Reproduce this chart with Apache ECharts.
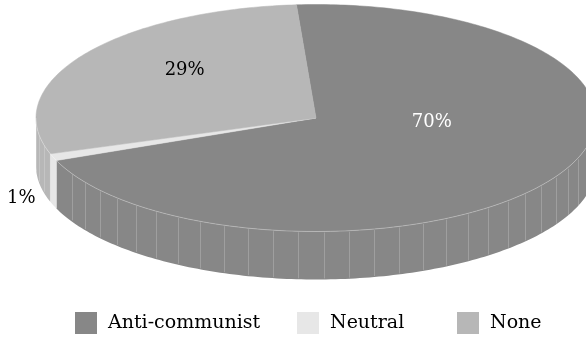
<!DOCTYPE html>
<html>
<head>
<meta charset="utf-8">
<script src="https://cdn.jsdelivr.net/npm/echarts@6/dist/echarts.min.js"></script>
<style>
  html, body { margin: 0; padding: 0; background: #ffffff; }
  #chart { width: 586px; height: 340px; }
</style>
</head>
<body>
<div id="chart"></div>
<script>
// Slices of the pie, in drawing order (clockwise from the top)
const categories = ['Anti-communist', 'Neutral', 'None'];
const shares = [70, 1, 29];
const valueLabels = ['70%', '1%', '29%'];
const sliceColors = ['#878787', '#e7e7e7', '#b7b7b7'];
const labelColors = ['#ffffff', '#000000', '#000000'];

// Tilted-disc geometry (pixels) and starting angle of the first slice
const disc = { cx: 316, cy: 118, rx: 280, ry: 113.5, depth: 48, startDeg: -94 };
// Label placement: radial factor and a small nudge per slice
const labelRadius = [0.5, 1.0, 0.5];
const labelNudge = [[-3, -26], [-32, 41], [-15, -16]];
const FONT = 'DejaVu Serif';

const total = shares.reduce((a, b) => a + b, 0);
const spans = [];
let acc = 0;
shares.forEach(v => {
  const a0 = disc.startDeg + acc / total * 360;
  acc += v;
  const a1 = disc.startDeg + acc / total * 360;
  spans.push([a0, a1]);
});

const rad = d => d * Math.PI / 180;
const rimPoint = (deg, drop) => [
  disc.cx + disc.rx * Math.cos(rad(deg)),
  disc.cy + disc.ry * Math.sin(rad(deg)) + (drop || 0)
];
function arc(a0, a1, drop) {
  const pts = [];
  const n = Math.max(2, Math.ceil(Math.abs(a1 - a0) / 1));
  for (let k = 0; k <= n; k++) pts.push(rimPoint(a0 + (a1 - a0) * k / n, drop));
  return pts;
}
// Parts of a slice's rim that face the viewer (lower half of the ellipse)
function frontRanges(a0, a1) {
  const out = [];
  for (const k of [-360, 0, 360]) {
    const lo = Math.max(a0, k), hi = Math.min(a1, k + 180);
    if (hi > lo) out.push([lo, hi]);
  }
  return out;
}

function renderSlice(i) {
  const [a0, a1] = spans[i];
  const color = sliceColors[i];
  const children = [];
  // Visible side walls
  frontRanges(a0, a1).forEach(([lo, hi]) => {
    const top = arc(lo, hi, 0);
    const bottom = arc(hi, lo, disc.depth);
    children.push({
      type: 'polygon', z2: 1,
      shape: { points: top.concat(bottom) },
      style: { fill: color, stroke: null }
    });
    // facet edges of the wall
    const step = 5.2;
    for (let a = Math.ceil(lo / step) * step; a < hi; a += step) {
      if (a - lo < 3 || hi - a < 3) continue;
      const p = rimPoint(a, 0), q = rimPoint(a, disc.depth);
      children.push({
        type: 'line', z2: 2,
        shape: { x1: Math.round(p[0]) + 0.5, y1: p[1] + 1, x2: Math.round(q[0]) + 0.5, y2: q[1] - 1 },
        style: { stroke: 'rgba(255,255,255,0.2)', lineWidth: 1 }
      });
    }
    // vertical edge where the wall begins
    const e = rimPoint(lo, 0), f = rimPoint(lo, disc.depth);
    children.push({
      type: 'line', z2: 2,
      shape: { x1: e[0], y1: e[1], x2: f[0], y2: f[1] },
      style: { stroke: 'rgba(255,255,255,0.2)', lineWidth: 1 }
    });
    // light seam along the upper rim
    children.push({
      type: 'polyline', z2: 4,
      shape: { points: arc(lo, hi, 0) },
      style: { stroke: 'rgba(255,255,255,0.3)', lineWidth: 1, fill: null }
    });
  });
  // Top face
  children.push({
    type: 'polygon', z2: 3,
    shape: { points: [[disc.cx, disc.cy]].concat(arc(a0, a1, 0)) },
    style: { fill: color, stroke: color, lineWidth: 0.5 }
  });
  // Value label
  const mid = (a0 + a1) / 2;
  const f = labelRadius[i];
  const lx = disc.cx + f * disc.rx * Math.cos(rad(mid)) + labelNudge[i][0];
  const ly = disc.cy + f * disc.ry * Math.sin(rad(mid)) + labelNudge[i][1];
  children.push({
    type: 'text', z2: 10,
    x: lx, y: ly,
    style: {
      text: valueLabels[i], fill: labelColors[i],
      font: '18px "' + FONT + '"', align: 'center', verticalAlign: 'middle'
    }
  });
  return { type: 'group', children };
}

const chart = echarts.init(document.getElementById('chart'), null, { renderer: 'canvas' });

const legendLefts = [75, 297, 457];
const option = {
  animation: false,
  color: sliceColors,
  legend: categories.map((name, i) => ({
    data: [name],
    left: legendLefts[i], top: 312,
    padding: 0,
    icon: 'rect', itemWidth: 22, itemHeight: 22,
    selectedMode: false,
    textStyle: { fontFamily: FONT, fontSize: 19, color: '#000', padding: [0, 0, 0, 6] }
  })),
  series: categories.map((name, i) => ({
    type: 'custom',
    name: name,
    coordinateSystem: 'none',
    silent: true,
    itemStyle: { color: sliceColors[i] },
    data: [[i, shares[i]]],
    renderItem: () => renderSlice(i)
  }))
};
chart.setOption(option);
</script>
</body>
</html>
